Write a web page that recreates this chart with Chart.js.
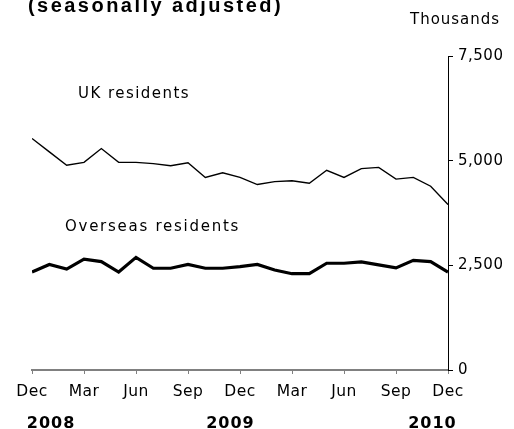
<!DOCTYPE html>
<html>
<head>
<meta charset="utf-8">
<style>
  html, body { margin: 0; padding: 0; background: #ffffff; overflow: hidden; }
  canvas { display: block; }
</style>
<script src="https://cdn.jsdelivr.net/npm/chart.js@4/dist/chart.umd.min.js"></script>
</head>
<body>
<canvas id="c" width="514" height="429"></canvas>
<script>
// Monthly, Dec 2008 .. Dec 2010 (thousands, seasonally adjusted)
const monthLabels = ['Dec','Jan','Feb','Mar','Apr','May','Jun','Jul','Aug','Sep','Oct','Nov',
                     'Dec','Jan','Feb','Mar','Apr','May','Jun','Jul','Aug','Sep','Oct','Nov','Dec'];
const ukResidents = [5530, 5210, 4890, 4960, 5290, 4960, 4960, 4930, 4880, 4950, 4600, 4710,
                     4600, 4430, 4500, 4520, 4460, 4770, 4600, 4810, 4840, 4560, 4600, 4390, 3950];
const overseasResidents = [2340, 2520, 2410, 2650, 2590, 2340, 2690, 2430, 2430, 2520, 2430, 2430,
                           2470, 2520, 2390, 2300, 2300, 2550, 2550, 2580, 2510, 2440, 2620, 2590, 2340];
const yTicks = [0, 2500, 5000, 7500];
const yearLabels = ['2008', '2009', '2010'];
const yearAnchors = [1.1, 11.45, 23.1];
const seriesNames = ['UK residents', 'Overseas residents'];
const titleText = '(seasonally adjusted)';
const unitText = 'Thousands';

const FONT = "'DejaVu Sans', Verdana, sans-serif";
const SPACING = '0.5px';

// draw text left-aligned so that its overall width equals `target`
function drawFit(ctx, text, x, y, target) {
  ctx.letterSpacing = '0px';
  const w = ctx.measureText(text).width;
  const s = Math.max(-1, (target - w) / text.length);
  ctx.letterSpacing = s.toFixed(2) + 'px';
  ctx.fillText(text, x, y);
}

const annotate = {
  id: 'annotate',
  beforeDraw(chart) {
    chart.ctx.letterSpacing = SPACING;
  },
  afterDraw(chart) {
    const ctx = chart.ctx;
    const xs = chart.scales.x;
    ctx.save();
    ctx.fillStyle = '#000';
    ctx.textBaseline = 'alphabetic';
    ctx.textAlign = 'left';
    // title (partly cut at the top)
    ctx.font = "bold 20px 'Liberation Sans', Arial, sans-serif";
    drawFit(ctx, titleText, 28, 12, 255);
    // unit label
    ctx.font = '15px ' + FONT;
    drawFit(ctx, unitText, 410, 24, 90);
    // series labels
    ctx.font = '15px ' + FONT;
    drawFit(ctx, seriesNames[0], 78, 98, 112);
    drawFit(ctx, seriesNames[1], 65, 231, 175);
    // years
    ctx.font = 'bold 16px ' + FONT;
    ctx.letterSpacing = '1px';
    ctx.textAlign = 'center';
    yearLabels.forEach((t, i) => {
      ctx.fillText(t, xs.getPixelForValue(yearAnchors[i]), 428);
    });
    ctx.restore();
  }
};

new Chart(document.getElementById('c'), {
  type: 'line',
  data: {
    datasets: [
      {
        label: seriesNames[0],
        data: ukResidents.map((v, i) => ({ x: i, y: v })),
        borderColor: '#000000',
        borderWidth: 1.4,
        pointRadius: 0,
        tension: 0,
        fill: false
      },
      {
        label: seriesNames[1],
        data: overseasResidents.map((v, i) => ({ x: i, y: v })),
        borderColor: '#000000',
        borderWidth: 3.2,
        pointRadius: 0,
        tension: 0,
        fill: false
      }
    ]
  },
  options: {
    responsive: false,
    animation: false,
    devicePixelRatio: 1,
    layout: { padding: { left: 32, top: 56, right: 0, bottom: 0 } },
    plugins: {
      legend: { display: false },
      title: { display: false },
      tooltip: { enabled: false }
    },
    scales: {
      x: {
        type: 'linear',
        min: 0,
        max: monthLabels.length - 1,
        offset: false,
        afterFit(scale) { scale.height = 59; },
        afterBuildTicks(scale) {
          scale.ticks = monthLabels.map((m, i) => ({ value: i })).filter(t => t.value % 3 === 0);
        },
        ticks: {
          autoSkip: false,
          maxRotation: 0,
          padding: 9,
          color: '#000',
          font: { family: FONT, size: 15.5 },
          callback: (v) => monthLabels[v]
        },
        grid: {
          drawOnChartArea: false,
          drawTicks: true,
          tickLength: 4,
          color: '#808080',
          lineWidth: 1
        },
        border: { display: true, color: '#808080', width: 2 }
      },
      y: {
        position: 'right',
        min: yTicks[0],
        max: yTicks[yTicks.length - 1],
        afterFit(scale) { scale.width = 66; },
        afterBuildTicks(scale) {
          scale.ticks = yTicks.map(v => ({ value: v }));
        },
        ticks: {
          padding: 5,
          color: '#000',
          font: { family: FONT, size: 15 },
          callback: (v) => v.toLocaleString('en-US')
        },
        grid: {
          drawOnChartArea: false,
          drawTicks: true,
          tickLength: 5,
          color: '#000000',
          lineWidth: 1
        },
        border: { display: true, color: '#000000', width: 1 }
      }
    }
  },
  plugins: [annotate]
});
</script>
</body>
</html>
